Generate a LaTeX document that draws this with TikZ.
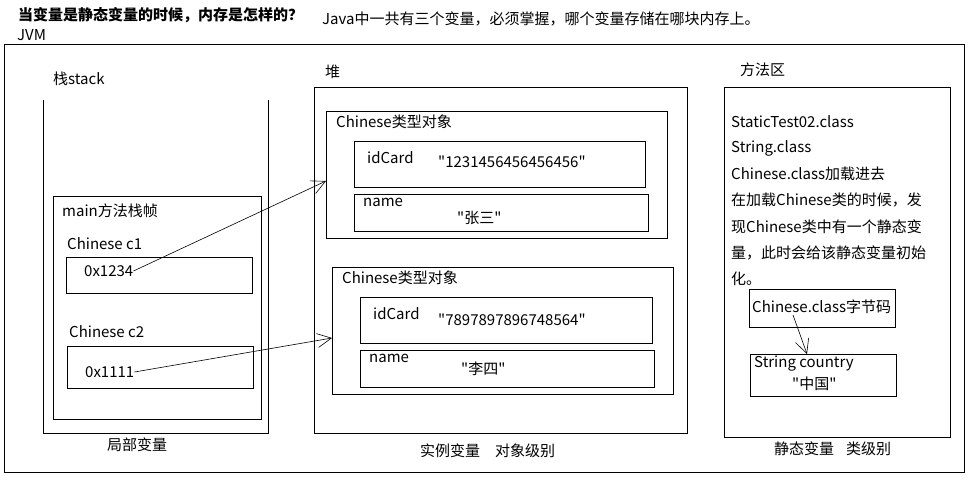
\documentclass[tikz,border=0pt]{standalone}
\usepackage{fontspec}
\newfontfamily\cjk{Noto Sans CJK SC}
\usetikzlibrary{arrows.meta}
\begin{document}
\begin{tikzpicture}[x=1pt,y=-1pt,
  box/.style={draw, line width=0.9pt, inner sep=0pt, anchor=north west},
  lbl/.style={inner sep=0pt, anchor=west, font=\cjk\fontsize{15}{17}\selectfont},
  conn/.style={line width=0.6pt, -{Straight Barb[length=14pt,width=14pt,line width=0.6pt]}}]
\useasboundingbox (0,0) rectangle (968,480);
% titles
\node[lbl, font=\cjk\bfseries\fontsize{15}{17}\selectfont] (title) at (18,15) {当变量是静态变量的时候，内存是怎样的？};
\node[lbl] (jvmt) at (17,35) {JVM};
\node[lbl] (note) at (322,19) {Java中一共有三个变量，必须掌握，哪个变量存储在哪块内存上。};
% JVM frame
\node[box, minimum width=960pt, minimum height=428pt] (jvm) at (4,44) {};
% stack
\node[lbl] (stackt) at (53,79) {栈stack};
\draw[line width=0.9pt] (43,100) -- (43,433) -- (268,433) -- (268,100);
\node[lbl] (local) at (107,445) {局部变量};
\node[box, minimum width=208pt, minimum height=223pt] (frame) at (53,196) {};
\node[lbl] (framet) at (62,211) {main方法栈帧};
\node[lbl] (c1t) at (67,244) {Chinese c1};
\node[box, minimum width=186pt, minimum height=36pt] (c1box) at (66,257) {};
\node[lbl] (c1v) at (84,271) {0x1234};
\node[lbl] (c2t) at (69,332) {Chinese c2};
\node[box, minimum width=186pt, minimum height=42pt] (c2box) at (67,346) {};
\node[lbl] (c2v) at (85,372) {0x1111};
% heap
\node[lbl] (heapt) at (325,72) {堆};
\node[box, minimum width=373pt, minimum height=346pt] (heap) at (314,87) {};
\node[lbl] (inst) at (420,451) {实例变量\hspace{1em}对象级别};
% object 1
\node[box, minimum width=341pt, minimum height=127pt] (obj1) at (326,111) {};
\node[lbl] (obj1t) at (336,122) {Chinese类型对象};
\node[box, minimum width=291pt, minimum height=46pt] (id1) at (354,141) {};
\node[lbl] (id1t) at (367,158) {idCard};
\node[lbl] (id1v) at (438,162) {"1231456456456456"};
\node[box, minimum width=294pt, minimum height=37pt] (nm1) at (354,194) {};
\node[lbl] (nm1t) at (363,202) {name};
\node[lbl] (nm1v) at (457,218) {"张三"};
% object 2
\node[box, minimum width=341pt, minimum height=127pt] (obj2) at (332,267) {};
\node[lbl] (obj2t) at (342,278) {Chinese类型对象};
\node[box, minimum width=292pt, minimum height=46pt] (id2) at (360,297) {};
\node[lbl] (id2t) at (373,314) {idCard};
\node[lbl] (id2v) at (438,320) {"7897897896748564"};
\node[box, minimum width=294pt, minimum height=37pt] (nm2) at (360,350) {};
\node[lbl] (nm2t) at (369,358) {name};
\node[lbl] (nm2v) at (461,369) {"李四"};
% method area
\node[lbl] (mat) at (740,70) {方法区};
\node[box, minimum width=226pt, minimum height=350pt] (ma) at (724,87) {};
\node[lbl] (m1) at (731,122) {StaticTest02.class};
\node[lbl] (m2) at (731,148) {String.class};
\node[lbl] (m3) at (731,174) {Chinese.class加载进去};
\node[lbl] (m4) at (731,200) {在加载Chinese类的时候，发};
\node[lbl] (m5) at (731,227) {现Chinese类中有一个静态变};
\node[lbl] (m6) at (731,253) {量，此时会给该静态变量初始};
\node[lbl] (m7) at (731,279) {化。};
\node[box, minimum width=146pt, minimum height=38pt] (bc) at (749,289) {};
\node[lbl] (bct) at (752,307) {Chinese.class字节码};
\node[box, minimum width=146pt, minimum height=42pt] (sc) at (750,354) {};
\node[lbl] (sct) at (754,364) {String country};
\node[lbl] (scv) at (792,384) {"中国"};
\node[lbl] (stat) at (774,449) {静态变量\hspace{0.8em}类级别};
% connectors
\coordinate (t1) at (obj1.west |- 0,181);
\coordinate (t2) at (obj2.west |- 0,338);
\coordinate (s3) at (793,315);
\coordinate (t3) at (sc.north -| 807,0);
\draw[conn] (c1v.east) -- (t1);
\draw[conn] (c2v.east) -- (t2);
\draw[conn] (s3) -- (t3);
\end{tikzpicture}
\end{document}
